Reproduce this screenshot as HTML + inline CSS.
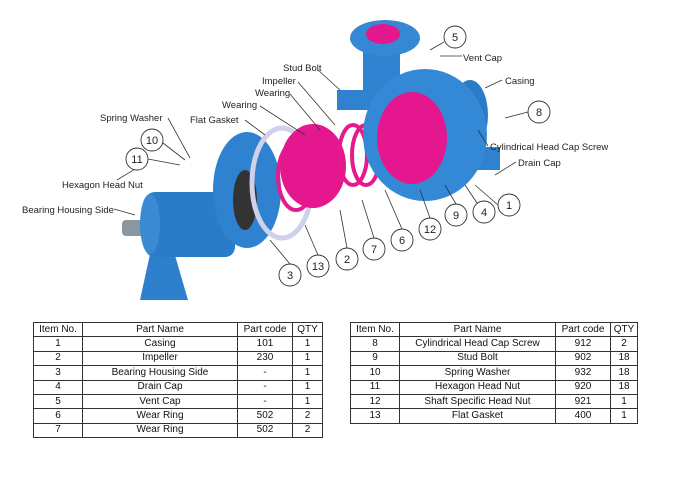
<!DOCTYPE html>
<html><head><meta charset="utf-8"><style>
body{margin:0;width:680px;height:480px;background:#fff;overflow:hidden;position:relative;font-family:"Liberation Sans",sans-serif}
svg{position:absolute;left:0;top:0}
table{position:absolute;border-collapse:collapse;font-size:10px;color:#111}
td{border:1px solid #333;text-align:center;height:13.4px;padding:0;line-height:12px}
</style></head><body>
<svg width="680" height="320" viewBox="0 0 680 320" font-family="Liberation Sans" font-size="9.5" fill="#222">
<!-- foot -->
<polygon points="140,300 152,245 172,245 188,300" fill="#2f80cc"/>
<!-- shaft -->
<rect x="122" y="220" width="26" height="16" rx="4" fill="#8a96a2"/>
<!-- bearing housing -->
<rect x="145" y="192" width="90" height="65" rx="10" fill="#2b7cc8"/>
<ellipse cx="150" cy="224" rx="10" ry="30" fill="#3a8ad4"/>
<!-- flange -->
<ellipse cx="247" cy="190" rx="34" ry="58" fill="#2f82d0"/>
<ellipse cx="245" cy="200" rx="12" ry="30" fill="#333"/>
<!-- gasket -->
<ellipse cx="282" cy="183" rx="30" ry="55" fill="none" stroke="#cfd0ea" stroke-width="5"/>
<!-- impeller & rings -->
<ellipse cx="296" cy="176" rx="18" ry="34" fill="none" stroke="#e6198f" stroke-width="4"/>
<ellipse cx="313" cy="166" rx="33" ry="42" fill="#e4178f"/>
<ellipse cx="353" cy="155" rx="14" ry="30" fill="none" stroke="#e6198f" stroke-width="4"/>
<ellipse cx="366" cy="155" rx="14" ry="30" fill="none" stroke="#e6198f" stroke-width="4"/>
<!-- casing -->
<rect x="337" y="90" width="40" height="20" fill="#2f82d0"/>
<rect x="447" y="147" width="53" height="23" fill="#2f82d0"/>
<rect x="363" y="48" width="37" height="50" fill="#2f82d0"/>
<ellipse cx="385" cy="38" rx="35" ry="18" fill="#3588d4"/>
<ellipse cx="383" cy="34" rx="17" ry="10" fill="#e4178f"/>
<ellipse cx="470" cy="115" rx="18" ry="35" fill="#2b7cc8"/>
<ellipse cx="425" cy="135" rx="62" ry="66" fill="#3489d6"/>
<ellipse cx="412" cy="138" rx="35" ry="46" fill="#e4178f"/>
<!-- leaders -->
<g stroke="#333" stroke-width="0.8" fill="none">
<line x1="444" y1="42" x2="430" y2="50"/><line x1="462" y1="56" x2="440" y2="56"/>
<line x1="502" y1="80" x2="485" y2="88"/><line x1="528" y1="112" x2="505" y2="118"/>
<line x1="488" y1="146" x2="478" y2="130"/><line x1="516" y1="162" x2="495" y2="175"/>
<line x1="498" y1="205" x2="475" y2="185"/><line x1="477" y1="203" x2="465" y2="185"/>
<line x1="456" y1="204" x2="445" y2="185"/><line x1="430" y1="218" x2="420" y2="190"/>
<line x1="402" y1="229" x2="385" y2="190"/><line x1="374" y1="238" x2="362" y2="200"/>
<line x1="347" y1="248" x2="340" y2="210"/><line x1="318" y1="255" x2="305" y2="225"/>
<line x1="290" y1="264" x2="270" y2="240"/>
<line x1="318" y1="70" x2="340" y2="90"/><line x1="298" y1="82" x2="335" y2="125"/>
<line x1="290" y1="94" x2="320" y2="130"/><line x1="260" y1="106" x2="305" y2="135"/>
<line x1="245" y1="120" x2="265" y2="135"/><line x1="168" y1="118" x2="190" y2="158"/>
<line x1="163" y1="143" x2="185" y2="160"/><line x1="148" y1="159" x2="180" y2="165"/>
<line x1="117" y1="180" x2="145" y2="163"/><line x1="114" y1="209" x2="135" y2="215"/>
</g>
<g fill="#fff" stroke="#333" stroke-width="0.9">
<circle cx="455" cy="37" r="11"/><circle cx="539" cy="112" r="11"/><circle cx="509" cy="205" r="11"/>
<circle cx="484" cy="212" r="11"/><circle cx="456" cy="215" r="11"/><circle cx="430" cy="229" r="11"/>
<circle cx="402" cy="240" r="11"/><circle cx="374" cy="249" r="11"/><circle cx="347" cy="259" r="11"/>
<circle cx="318" cy="266" r="11"/><circle cx="290" cy="275" r="11"/><circle cx="152" cy="140" r="11"/>
<circle cx="137" cy="159" r="11"/>
</g>
<g text-anchor="middle" font-size="11">
<text x="455" y="41">5</text><text x="539" y="116">8</text><text x="509" y="209">1</text>
<text x="484" y="216">4</text><text x="456" y="219">9</text><text x="430" y="233">12</text>
<text x="402" y="244">6</text><text x="374" y="253">7</text><text x="347" y="263">2</text>
<text x="318" y="270">13</text><text x="290" y="279">3</text><text x="152" y="144">10</text>
<text x="137" y="163">11</text>
</g>
<text x="463" y="61">Vent Cap</text><text x="505" y="84">Casing</text>
<text x="490" y="150">Cylindrical Head Cap Screw</text><text x="518" y="166">Drain Cap</text>
<text x="283" y="71">Stud Bolt</text><text x="262" y="84">Impeller</text>
<text x="255" y="96">Wearing</text><text x="222" y="108">Wearing</text>
<text x="190" y="123">Flat Gasket</text><text x="100" y="121">Spring Washer</text>
<text x="62" y="188">Hexagon Head Nut</text><text x="22" y="213">Bearing Housing Side</text>
</svg>
<table style="left:33px;top:322px;width:290px">
<tr><td style="width:48px">Item No.</td><td style="width:154px">Part Name</td><td style="width:54px">Part code</td><td>QTY</td></tr>
<tr><td>1</td><td>Casing</td><td>101</td><td>1</td></tr>
<tr><td>2</td><td>Impeller</td><td>230</td><td>1</td></tr>
<tr><td>3</td><td>Bearing Housing Side</td><td>-</td><td>1</td></tr>
<tr><td>4</td><td>Drain Cap</td><td>-</td><td>1</td></tr>
<tr><td>5</td><td>Vent Cap</td><td>-</td><td>1</td></tr>
<tr><td>6</td><td>Wear Ring</td><td>502</td><td>2</td></tr>
<tr><td>7</td><td>Wear Ring</td><td>502</td><td>2</td></tr>
</table>
<table style="left:350px;top:322px;width:288px">
<tr><td style="width:48px">Item No.</td><td style="width:155px">Part Name</td><td style="width:54px">Part code</td><td>QTY</td></tr>
<tr><td>8</td><td>Cylindrical Head Cap Screw</td><td>912</td><td>2</td></tr>
<tr><td>9</td><td>Stud Bolt</td><td>902</td><td>18</td></tr>
<tr><td>10</td><td>Spring Washer</td><td>932</td><td>18</td></tr>
<tr><td>11</td><td>Hexagon Head Nut</td><td>920</td><td>18</td></tr>
<tr><td>12</td><td>Shaft Specific Head Nut</td><td>921</td><td>1</td></tr>
<tr><td>13</td><td>Flat Gasket</td><td>400</td><td>1</td></tr>
</table>
</body></html>
